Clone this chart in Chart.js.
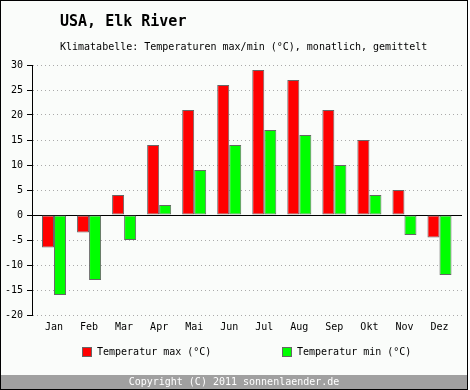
<!DOCTYPE html>
<html><head><meta charset="utf-8">
<script src="https://cdn.jsdelivr.net/npm/chart.js@4/dist/chart.umd.min.js"></script>
<style>html,body{margin:0;padding:0;background:#ffffff;}canvas{display:block;}</style>
</head><body><canvas id="c" width="470" height="390"></canvas>
<script>
const months = ["Jan","Feb","Mar","Apr","Mai","Jun","Jul","Aug","Sep","Okt","Nov","Dez"];
const tempMax = [-6.5,-3.5,4,14,21,26,29,27,21,15,5,-4.5];
const tempMin = [-16,-13,-5,2,9,14,17,16,10,4,-4,-12];
const yTicks = [30,25,20,15,10,5,0,-5,-10,-15,-20];
const titleText = "USA, Elk River";
const subtitleText = "Klimatabelle: Temperaturen max/min (°C), monatlich, gemittelt";
const footerText = "Copyright (C) 2011 sonnenlaender.de";
const seriesNames = ["Temperatur max (°C)","Temperatur min (°C)"];
const MONO = '"DejaVu Sans Mono", "Liberation Mono", monospace';

const decor = {
  id:'decor',
  beforeDraw(chart){
    const c = chart.ctx;
    c.save();
    c.fillStyle = '#ffffff'; c.fillRect(0,0,470,390);
    c.fillStyle = '#fafcfa'; c.fillRect(0,0,468,390);
    c.restore();
  },
  afterLayout(chart){
    const x = chart.scales.x;
    x._startPixel = 36.5; x._endPixel = 457; x._length = 420.5;
  },
  beforeDatasetsDraw(chart){
    const c = chart.ctx, a = chart.chartArea, y = chart.scales.y.getPixelForValue(0);
    c.save(); c.strokeStyle='#000'; c.lineWidth=1;
    c.beginPath(); c.moveTo(a.left, Math.round(y)+0.5); c.lineTo(a.right, Math.round(y)+0.5); c.stroke();
    c.restore();
  },
  afterDraw(chart){
    const c = chart.ctx;
    c.save();
    c.fillStyle='#000'; c.textBaseline='middle'; c.textAlign='left';
    c.font = 'bold 15px '+MONO; c.fillText(titleText, 60, 22);
    c.font = '10px '+MONO; c.fillText(subtitleText, 60, 47);
    const cols = ['#ff0000','#00ff00'], lx=[82,282];
    for (let i=0;i<2;i++){
      c.fillStyle=cols[i]; c.fillRect(lx[i]+0.5,347.5,9,9);
      c.strokeStyle='#666'; c.lineWidth=1; c.strokeRect(lx[i]+0.5,347.5,9,9);
      c.fillStyle='#000'; c.font='10px '+MONO; c.fillText(seriesNames[i], lx[i]+15, 352);
    }
    c.fillStyle='#a0a0a0'; c.fillRect(0,375,468,15);
    c.fillStyle='#ffffff'; c.textAlign='center'; c.font='10px '+MONO; c.fillText(footerText,234,382);
    c.strokeStyle='#000'; c.lineWidth=1; c.strokeRect(0.5,0.5,467,389);
    c.restore();
  }
};

new Chart(document.getElementById('c'), {
  type:'bar',
  data:{ labels: months, datasets:[
    {label:seriesNames[0], data: tempMax, backgroundColor:'#ff0000', borderColor:'#666666', borderWidth:1, borderSkipped:false},
    {label:seriesNames[1], data: tempMin, backgroundColor:'#00ff00', borderColor:'#666666', borderWidth:1, borderSkipped:false}
  ]},
  options:{
    responsive:false, animation:false, devicePixelRatio:1,
    layout:{padding:{left:0,top:65,right:8,bottom:56}},
    plugins:{legend:{display:false}, tooltip:{enabled:false}, title:{display:false}},
    datasets:{bar:{categoryPercentage:0.686, barPercentage:1.0}},
    scales:{
      x:{ grid:{display:false, drawTicks:false}, border:{display:false},
          ticks:{color:'#000', font:{family:MONO,size:10}, padding:6, maxRotation:0, autoSkip:false},
          afterFit(s){ s.height = 19; } },
      y:{ min:-20, max:30,
          afterBuildTicks(s){ s.ticks = yTicks.map(v=>({value:v})); },
          afterFit(s){ s.width = 32; },
          grid:{ color:'#aaaaaa', drawTicks:true, tickLength:5, tickColor:'#000', tickBorderDash:[], tickWidth:1 },
          border:{ display:true, color:'#000', width:1, dash:[1,3] },
          ticks:{ color:'#000', font:{family:MONO,size:10}, padding:4 } }
    }
  },
  plugins:[decor]
});
</script></body></html>
